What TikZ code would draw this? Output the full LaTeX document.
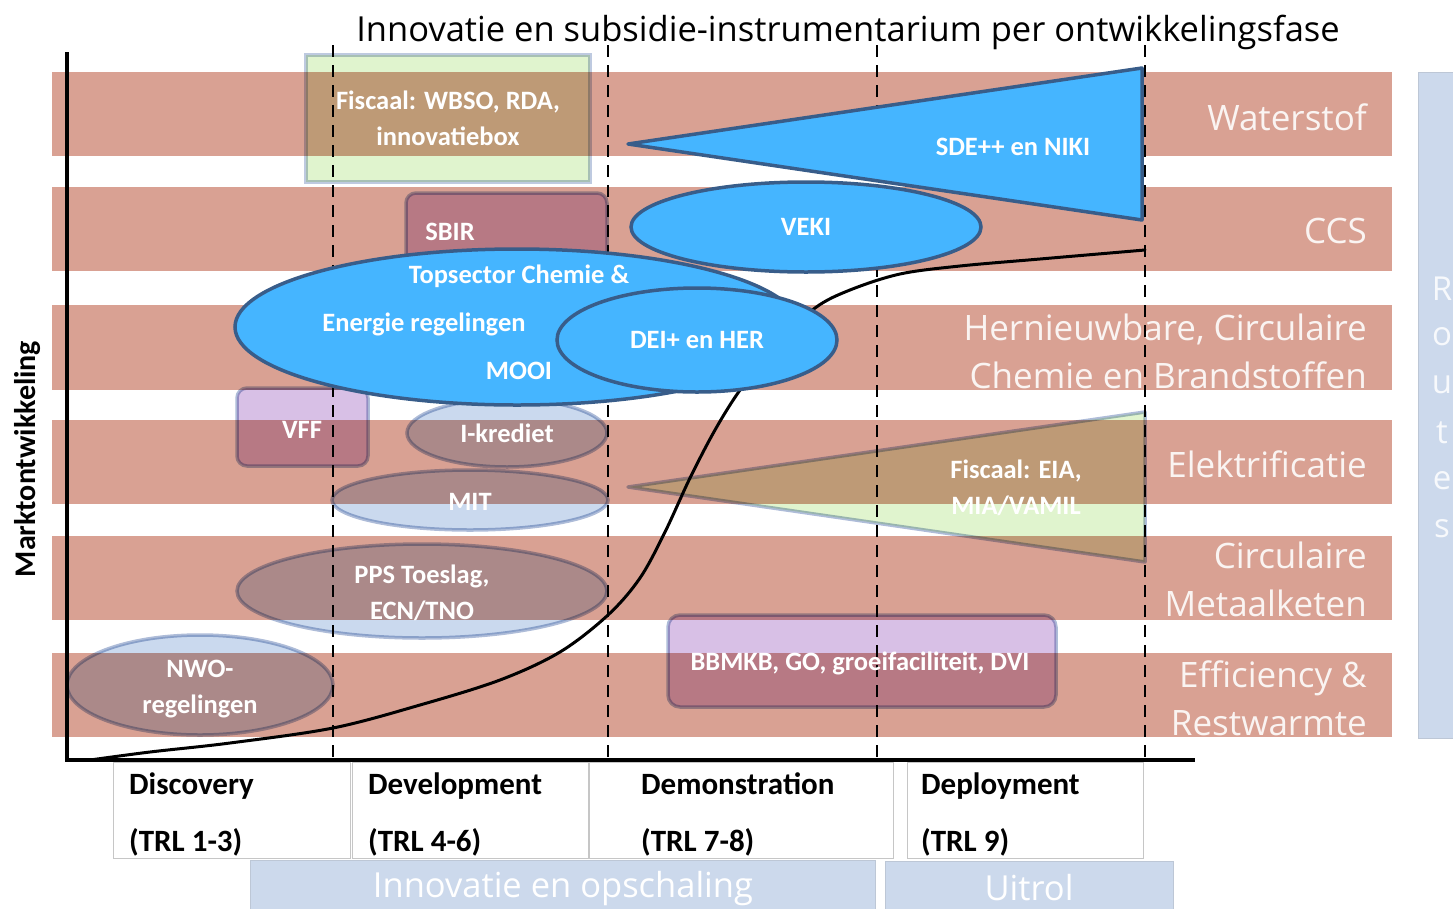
\documentclass[tikz,border=0pt]{standalone}
\usepackage{fontspec}
\setmainfont{Carlito}
\newfontfamily\osfont{Open Sans}
\usetikzlibrary{shapes.geometric}
\definecolor{bandc}{RGB}{217,161,147}
\definecolor{blueF}{RGB}{69,181,255}
\definecolor{blueD}{RGB}{56,93,138}
\definecolor{lgreen}{RGB}{224,244,206}
\definecolor{lpurple}{RGB}{216,192,230}
\definecolor{lblue}{RGB}{202,217,238}
\definecolor{borderL}{RGB}{140,160,200}
\definecolor{routec}{RGB}{204,217,236}
\definecolor{labelc}{RGB}{250,244,242}
\tikzset{
  blueshape/.style={fill=blueF, draw=blueD, line width=3.5pt, inner sep=0pt},
  lightshape/.style={draw=borderL, draw opacity=0.7, line width=3.5pt, inner sep=0pt},
  whitetxt/.style={text=white, font=\bfseries\fontsize{26.5}{36}\selectfont, align=center, inner sep=0pt},
  rlabel/.style={text=labelc, font=\osfont\fontsize{35}{48}\selectfont, anchor=east, align=right, inner sep=0pt},
  stagebox/.style={draw=gray!45, fill=white, line width=0.8pt, anchor=north west, inner sep=0pt},
  stagetxt/.style={font=\bfseries\fontsize{31}{36}\selectfont, anchor=base west, inner sep=0pt},
  phase/.style={dash pattern=on 12pt off 8pt, line width=2.5pt},
  bluebox/.style={fill=routec, draw=routec!80!gray, line width=0.8pt, inner sep=0pt},
  boxlabel/.style={text=white, font=\osfont\fontsize{34.5}{40}\selectfont, inner sep=0pt},
}
\begin{document}
\begin{tikzpicture}[x=1pt,y=-1pt]
\useasboundingbox (0,0) rectangle (1453,908);
% bands
\foreach \a/\b in {72/156,187/271,305/390,420/504,536/620,653/737}
  \fill[bandc] (52,\a) rectangle (1392,\b);
% routes box
\node[bluebox, minimum width=40, minimum height=666, anchor=north west] (routes) at (1418,72) {};
\foreach \l [count=\i from 0] in {R,o,u,t,e,s}
  \node[text=white!85!routec, font=\osfont\fontsize{33}{36}\selectfont, inner sep=0pt] at (1442,289+48*\i) {\l};
% right labels
\node[rlabel] (lw) at (1367,117) {Waterstof};
\node[rlabel] (lc) at (1367,231) {CCS};
\node[rlabel] (lh) at (1367,351) {Hernieuwbare, Circulaire\\Chemie en Brandstoffen};
\node[rlabel] (le) at (1367,464) {Elektrificatie};
\node[rlabel] (lm) at (1367,579) {Circulaire\\Metaalketen};
\node[rlabel] (lf) at (1367,698) {Efficiency \&\\Restwarmte};
% title
\node[font=\osfont\fontsize{34.5}{40}\selectfont, inner sep=0pt] (title) at (848,32) {Innovatie en subsidie-instrumentarium per ontwikkelingsfase};
% phase lines
\foreach \x in {333,608,877,1145}
  \draw[phase] (\x,45) -- (\x,760);
% light shapes (multiply)
\begin{scope}[blend mode=multiply]
  \node[lightshape, fill=lgreen, rectangle, minimum width=284, minimum height=127, draw=borderL!80!white] (fisc) at (448,118.5) {};
  \node[lightshape, fill=lpurple, rectangle, rounded corners=10pt, minimum width=201, minimum height=100] (sbir) at (506.5,243) {};
  \node[lightshape, fill=lpurple, rectangle, rounded corners=10pt, minimum width=131, minimum height=78] (vff) at (302.5,427) {};
  \node[lightshape, fill=lblue, ellipse, minimum width=200, minimum height=68] (ikr) at (507,433) {};
  \node[lightshape, fill=lblue, ellipse, minimum width=276, minimum height=60] (mit) at (470,500) {};
  \node[lightshape, fill=lblue, ellipse, minimum width=370, minimum height=94] (pps) at (422,591) {};
  \node[lightshape, fill=lblue, ellipse, minimum width=266, minimum height=100] (nwo) at (200,685) {};
  \node[lightshape, fill=lpurple, rectangle, rounded corners=12pt, minimum width=388, minimum height=92] (bbm) at (862,661) {};
  \draw[lightshape, fill=lgreen, line join=round] (628,487) -- (1145,412) -- (1145,562) -- cycle;
\end{scope}
\coordinate (eiac) at (1016,488);
% curve
\draw[line width=3pt, line cap=round] plot[smooth, tension=0.55] coordinates {(90,760) (150,752) (230,743) (333,728) (420,705) (500,680) (560,652) (608,615) (640,578) (665,532) (690,478) (715,430) (740,390) (775,345) (815,308) (850,290) (900,274) (960,266) (1040,259) (1145,250)};
% blue shapes
\draw[blueshape, line join=round] (628,144) -- (1142,68) -- (1142,220) -- cycle;
\coordinate (sdec) at (1013,147);
\node[blueshape, ellipse, minimum width=350, minimum height=90] (veki) at (806,227) {};
\node[blueshape, ellipse, minimum width=564, minimum height=156] (tops) at (517,327) {};
\node[blueshape, ellipse, minimum width=280, minimum height=104] (dei) at (697,340) {};
% texts on shapes
\node[whitetxt] at (fisc.center) {Fiscaal: WBSO, RDA,\\innovatiebox};
\node[whitetxt] at (450,232) {SBIR};
\node[whitetxt] at (302,430) {VFF};
\node[whitetxt] at (ikr.center) {I-krediet};
\node[whitetxt] at (470,502) {MIT};
\node[whitetxt] at (422,593) {PPS Toeslag,\\ECN/TNO};
\node[whitetxt] at (200,689) {NWO-\\regelingen};
\node[whitetxt] at (860,663) {BBMKB, GO, groeifaciliteit, DVI};
\node[whitetxt] at (eiac) {Fiscaal: EIA,\\MIA/VAMIL};
\node[whitetxt] at (sdec) {SDE++ en NIKI};
\node[whitetxt] at (veki.center) {VEKI};
\node[whitetxt] at (519,276) {Topsector Chemie \&};
\node[whitetxt] at (424,324) {Energie regelingen};
\node[whitetxt] at (519,371) {MOOI};
\node[whitetxt] at (dei.center) {DEI+ en HER};
% axes
\draw[line width=3.5pt] (67,52) -- (67,760) -- (1195,760);
\node[font=\bfseries\fontsize{30}{34}\selectfont, rotate=90, inner sep=0pt] (ylab) at (28,459) {Marktontwikkeling};
% stage boxes
\node[stagebox, minimum width=237, minimum height=96] (s1) at (113,762) {};
\node[stagebox, minimum width=236, minimum height=96] (s2) at (352,762) {};
\node[stagebox, minimum width=304, minimum height=96] (s3) at (589,762) {};
\node[stagebox, minimum width=236, minimum height=96] (s4) at (907,762) {};
\node[stagetxt] at (129,794) {Discovery};
\node[stagetxt] at (129,851) {(TRL 1-3)};
\node[stagetxt] at (368,794) {Development};
\node[stagetxt] at (368,851) {(TRL 4-6)};
\node[stagetxt] at (641,794) {Demonstration};
\node[stagetxt] at (641,851) {(TRL 7-8)};
\node[stagetxt] at (921,794) {Deployment};
\node[stagetxt] at (921,851) {(TRL 9)};
% bottom boxes
\node[bluebox, anchor=north west, minimum width=625, minimum height=50] (inno) at (250,860) {};
\node[boxlabel] at (563,889) {Innovatie en opschaling};
\node[bluebox, anchor=north west, minimum width=288, minimum height=49] (uit) at (885,861) {};
\node[boxlabel] at (1029,888) {Uitrol};
\end{tikzpicture}
\end{document}
